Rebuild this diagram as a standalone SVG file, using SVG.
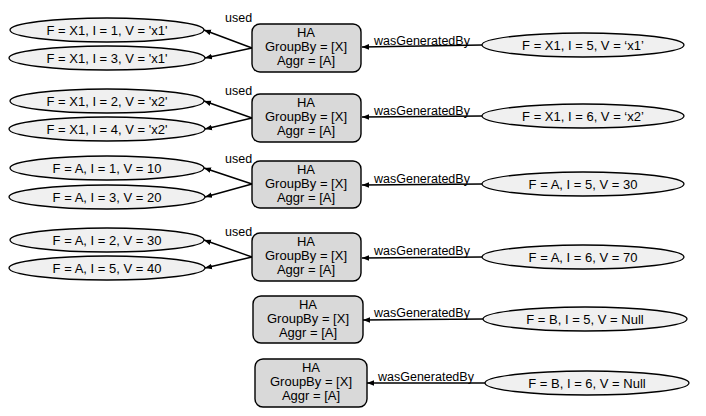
<svg xmlns="http://www.w3.org/2000/svg" width="706" height="416" viewBox="0 0 706 416">
<defs>
<marker id="ah" viewBox="0 0 10 10" refX="10" refY="5" markerWidth="7" markerHeight="7" orient="auto" markerUnits="userSpaceOnUse">
<path d="M0,1 L10,5 L0,9 Z" fill="#000"/>
</marker>
<style>
text{font-family:"Liberation Sans",Arial,sans-serif;font-size:13px;fill:#000}
.c{text-anchor:middle}
.l{font-size:12.5px}
.box{fill:#d9d9d9;stroke:#000;stroke-width:1.4}
.ent{fill:#f0f0f0;stroke:#000;stroke-width:1.3}
.e{stroke:#000;stroke-width:1.4;fill:none;marker-end:url(#ah)}
</style>
</defs>
<rect width="706" height="416" fill="#fff"/>
<g id="connectors">
<line class="e" x1="252" y1="48" x2="204" y2="30"/>
<line class="e" x1="252" y1="48" x2="205" y2="58"/>
<line class="e" x1="482" y1="45" x2="362" y2="47"/>
<text class="l" x="225" y="22">used</text>
<text class="l" x="374" y="45">wasGeneratedBy</text>

<line class="e" x1="252" y1="118" x2="204" y2="101"/>
<line class="e" x1="252" y1="118" x2="205" y2="129"/>
<line class="e" x1="482" y1="116" x2="362" y2="117"/>
<text class="l" x="225" y="95">used</text>
<text class="l" x="374" y="115">wasGeneratedBy</text>

<line class="e" x1="252" y1="184" x2="204" y2="168"/>
<line class="e" x1="252" y1="184" x2="205" y2="197"/>
<line class="e" x1="482" y1="184" x2="362" y2="185"/>
<text class="l" x="225" y="163">used</text>
<text class="l" x="374" y="183">wasGeneratedBy</text>

<line class="e" x1="252" y1="257" x2="204" y2="240"/>
<line class="e" x1="252" y1="257" x2="205" y2="268"/>
<line class="e" x1="482" y1="257" x2="362" y2="258"/>
<text class="l" x="225" y="236">used</text>
<text class="l" x="374" y="255">wasGeneratedBy</text>

<line class="e" x1="483" y1="319" x2="363" y2="320"/>
<text class="l" x="374" y="317">wasGeneratedBy</text>

<line class="e" x1="485" y1="383" x2="367" y2="383"/>
<text class="l" x="378" y="381">wasGeneratedBy</text>
</g>

<g id="r1l1"><ellipse class="ent" cx="107" cy="30" rx="97" ry="12"/><text class="c" x="107" y="34.5">F = X1, I = 1, V = 'x1'</text></g>
<g id="r1l2"><ellipse class="ent" cx="107" cy="58" rx="98" ry="12"/><text class="c" x="107" y="62.5">F = X1, I = 3, V = 'x1'</text></g>
<g id="ha1"><rect class="box" x="252" y="24" width="109" height="48" rx="8"/><text class="c" x="306" y="37">HA</text><text class="c" x="306" y="51">GroupBy = [X]</text><text class="c" x="306" y="65">Aggr = [A]</text></g>
<g id="r1r"><ellipse class="ent" cx="583" cy="45" rx="101" ry="12"/><text class="c" x="583" y="49.5">F = X1, I = 5, V = ‘x1’</text></g>

<g id="r2l1"><ellipse class="ent" cx="107" cy="101" rx="97" ry="12"/><text class="c" x="107" y="105.5">F = X1, I = 2, V = 'x2'</text></g>
<g id="r2l2"><ellipse class="ent" cx="107" cy="129" rx="98" ry="12"/><text class="c" x="107" y="133.5">F = X1, I = 4, V = 'x2'</text></g>
<g id="ha2"><rect class="box" x="252" y="94" width="109" height="48" rx="8"/><text class="c" x="306" y="107">HA</text><text class="c" x="306" y="121">GroupBy = [X]</text><text class="c" x="306" y="135">Aggr = [A]</text></g>
<g id="r2r"><ellipse class="ent" cx="583" cy="116" rx="101" ry="12"/><text class="c" x="583" y="120.5">F = X1, I = 6, V = ‘x2’</text></g>

<g id="r3l1"><ellipse class="ent" cx="107" cy="168" rx="97" ry="12"/><text class="c" x="107" y="172.5">F = A, I = 1, V = 10</text></g>
<g id="r3l2"><ellipse class="ent" cx="107" cy="197" rx="98" ry="12"/><text class="c" x="107" y="201.5">F = A, I = 3, V = 20</text></g>
<g id="ha3"><rect class="box" x="252" y="161" width="109" height="47" rx="8"/><text class="c" x="306" y="174">HA</text><text class="c" x="306" y="188">GroupBy = [X]</text><text class="c" x="306" y="202">Aggr = [A]</text></g>
<g id="r3r"><ellipse class="ent" cx="583" cy="184" rx="101" ry="12"/><text class="c" x="583" y="188.5">F = A, I = 5, V = 30</text></g>

<g id="r4l1"><ellipse class="ent" cx="107" cy="240" rx="97" ry="12"/><text class="c" x="107" y="244.5">F = A, I = 2, V = 30</text></g>
<g id="r4l2"><ellipse class="ent" cx="107" cy="268" rx="98" ry="12"/><text class="c" x="107" y="272.5">F = A, I = 5, V = 40</text></g>
<g id="ha4"><rect class="box" x="252" y="233" width="109" height="48" rx="8"/><text class="c" x="306" y="246">HA</text><text class="c" x="306" y="260">GroupBy = [X]</text><text class="c" x="306" y="274">Aggr = [A]</text></g>
<g id="r4r"><ellipse class="ent" cx="583" cy="257" rx="101" ry="12"/><text class="c" x="583" y="261.5">F = A, I = 6, V = 70</text></g>

<g id="ha5"><rect class="box" x="253" y="296" width="110" height="47" rx="8"/><text class="c" x="308" y="309">HA</text><text class="c" x="308" y="323">GroupBy = [X]</text><text class="c" x="308" y="337">Aggr = [A]</text></g>
<g id="r5r"><ellipse class="ent" cx="585" cy="319" rx="102" ry="12"/><text class="c" x="585" y="323.5">F = B, I = 5, V = Null</text></g>

<g id="ha6"><rect class="box" x="255" y="359" width="112" height="48" rx="8"/><text class="c" x="311" y="372">HA</text><text class="c" x="311" y="386">GroupBy = [X]</text><text class="c" x="311" y="400">Aggr = [A]</text></g>
<g id="r6r"><ellipse class="ent" cx="587" cy="383" rx="102" ry="12"/><text class="c" x="587" y="387.5">F = B, I = 6, V = Null</text></g>
</svg>
